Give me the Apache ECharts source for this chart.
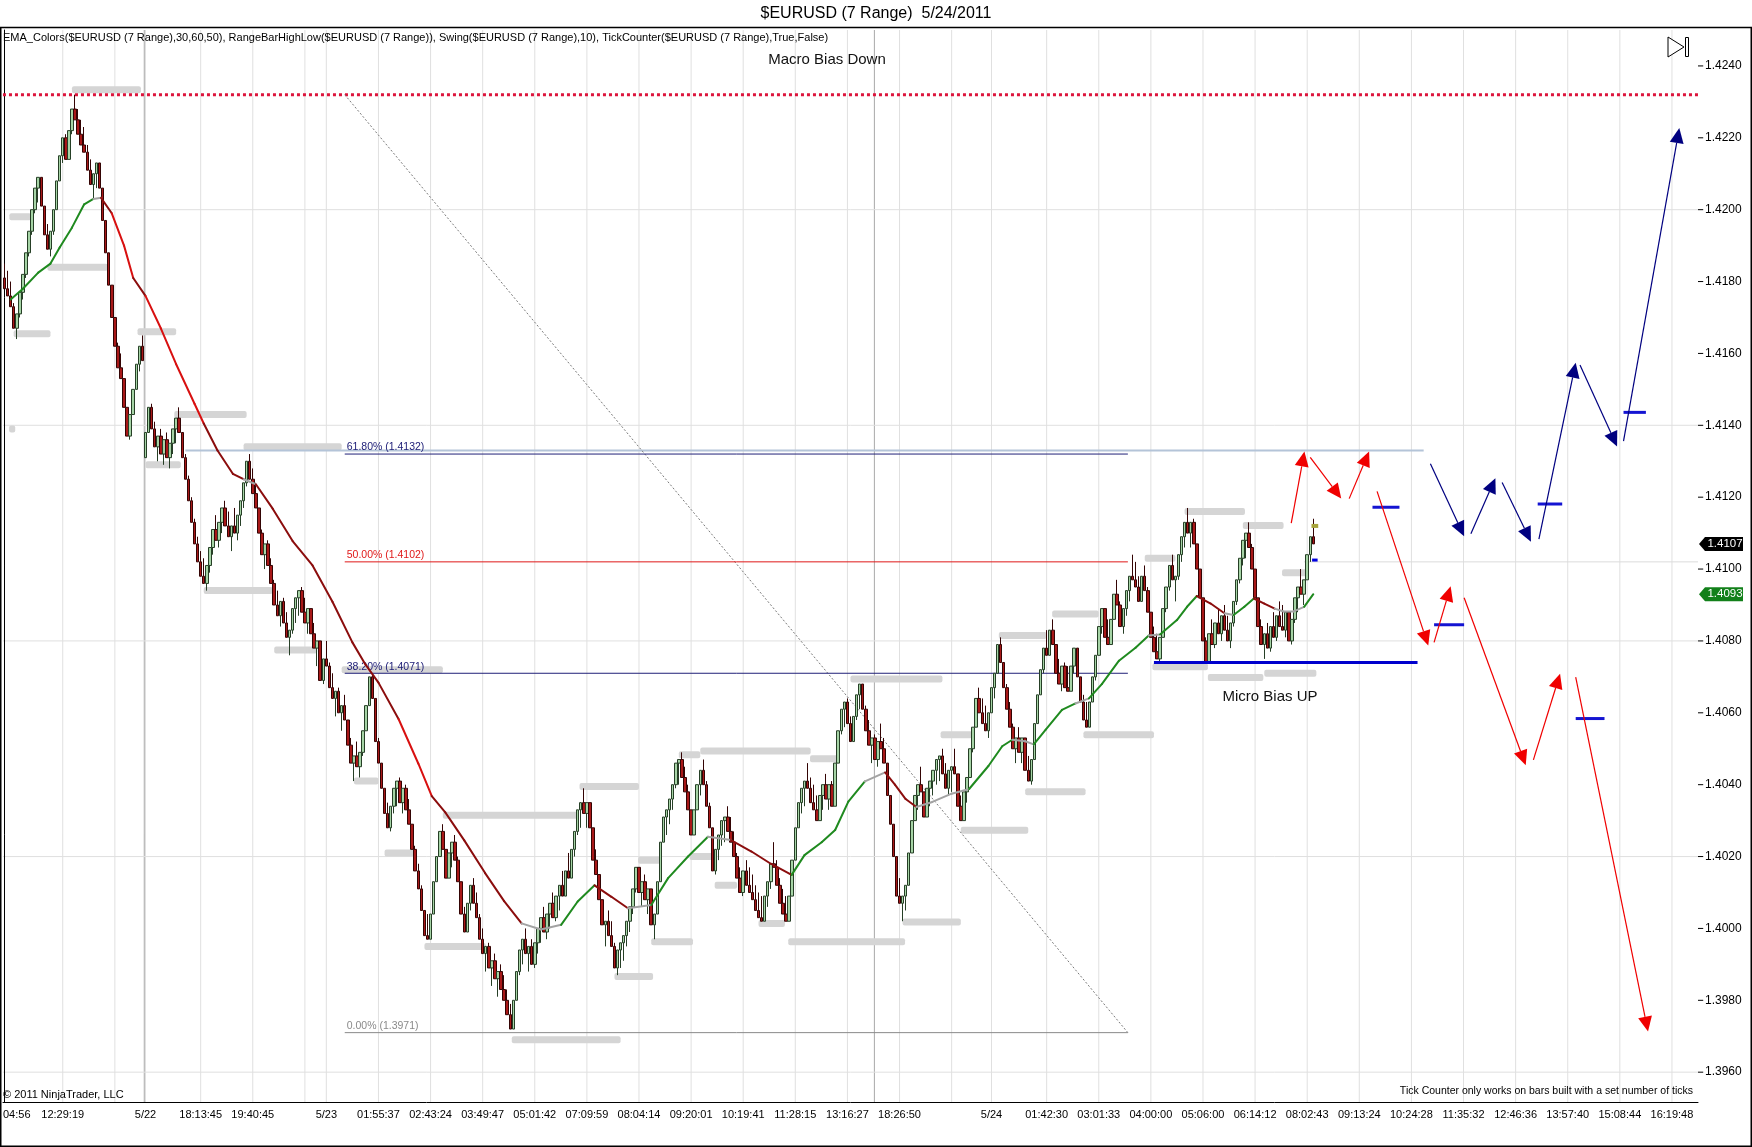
<!DOCTYPE html>
<html>
<head>
<meta charset="utf-8">
<title>$EURUSD (7 Range) 5/24/2011</title>
<script src="https://cdn.jsdelivr.net/npm/echarts@6/dist/echarts.min.js"></script>
<style>
  html, body { margin: 0; padding: 0; background: #fff; }
  #main { width: 1752px; height: 1147px; }
</style>
</head>
<body>
<div id="main"></div>
<script>
// $EURUSD 7 pip range bars. Prices are kept in pips: 4107 -> 1.4107
var SLOTS = 553; // bars + empty projection area on the time axis

// close of every range bar, left to right
var closes = [
  4178,4176,4173,4167,4171,4177,4182,4188,4194,4200,
  4206,4209,4201,4193,4189,4194,4200,4208,4215,4220,
  4214,4222,4228,4225,4221,4218,4216,4211,4207,4210,
  4213,4206,4197,4188,4179,4170,4162,4156,4153,4145,
  4137,4143,4150,4157,4162,4158,4138,4145,4139,4134,
  4137,4132,4136,4131,4135,4139,4142,4138,4131,4125,
  4119,4113,4107,4102,4098,4096,4101,4106,4111,4108,
  4113,4117,4112,4109,4112,4110,4115,4119,4124,4130,
  4125,4121,4117,4110,4104,4107,4101,4096,4090,4087,
  4091,4085,4081,4083,4089,4092,4094,4088,4085,4089,
  4082,4078,4080,4069,4075,4073,4067,4064,4066,4060,
  4062,4058,4051,4046,4048,4045,4049,4055,4062,4070,
  4064,4052,4046,4039,4032,4028,4034,4039,4041,4035,
  4039,4033,4029,4022,4016,4011,4005,3998,3997,4004,
  4013,4020,4027,4022,4014,4021,4024,4019,4013,4004,
  3999,4007,4012,4007,4003,3997,3993,3995,3989,3991,
  3986,3988,3983,3980,3976,3972,3980,3988,3994,3997,
  3993,3995,3990,3996,4000,4003,3999,4004,4007,4003,
  4009,4012,4009,4016,4014,4022,4027,4033,4035,4032,
  4035,4028,4019,4015,4008,4001,4002,3998,3995,3989,
  3994,3996,3998,4002,4006,4011,4017,4010,4013,4008,
  4011,4001,4004,4013,4024,4031,4033,4036,4040,4046,
  4047,4042,4038,4033,4026,4033,4040,4044,4040,4034,
  4028,4016,4022,4026,4030,4031,4027,4024,4020,4014,
  4010,4016,4012,4010,4008,4005,4003,4002,4009,4013,
  4018,4017,4012,4007,4004,4002,4009,4019,4028,4035,
  4039,4041,4039,4035,4033,4030,4037,4040,4036,4040,
  4034,4046,4055,4061,4063,4057,4052,4059,4065,4068,
  4061,4055,4051,4053,4047,4052,4050,4046,4037,4029,
  4020,4009,4007,4009,4012,4021,4030,4037,4040,4038,
  4031,4039,4041,4044,4047,4048,4043,4039,4044,4045,
  4043,4034,4030,4038,4042,4050,4056,4064,4060,4057,
  4055,4060,4067,4071,4079,4074,4067,4061,4056,4050,
  4053,4049,4053,4044,4041,4047,4057,4065,4072,4078,
  4076,4083,4079,4071,4068,4073,4067,4066,4073,4078,
  4070,4063,4058,4056,4063,4070,4076,4084,4089,4081,
  4079,4086,4093,4090,4084,4089,4094,4098,4097,4095,
  4091,4098,4094,4088,4081,4077,4075,4081,4089,4095,
  4101,4097,4098,4104,4109,4113,4110,4113,4107,4100,
  4092,4080,4074,4082,4079,4085,4082,4087,4083,4080,
  4085,4091,4097,4103,4108,4110,4106,4100,4092,4084,
  4079,4082,4078,4084,4081,4087,4084,4083,4088,4080,
  4086,4092,4095,4093,4097,4104,4109,4107
];
// bars whose open is not the previous close (first bar, weekend gap)
var gapOpens = [[0, 4181], [46, 4131]];

// EMA_Colors line, [bar, pips]
var emaPts = [
  [2,4175],[6,4178],[11,4182.5],[15,4185],[18,4189.5],[22,4195],[26,4201.5],[29,4203],[31.5,4203.3],
  [35,4199],[39,4190],[42,4181],[46,4176],[51,4167],[56,4157],[62,4146],[65,4140.5],[69.5,4133],
  [74.5,4126.5],[78,4125],[82,4123.6],[87.5,4116.8],[94,4107.8],[100.5,4101],[107,4090.9],[113.5,4079.6],
  [117.8,4073.4],[122,4068.4],[128.6,4058.2],[135,4045.9],[139.4,4036.8],[143.8,4032.3],[150,4024.5],
  [156.8,4015.4],[163,4007.6],[168.7,4001.4],[175,3999.7],[181.6,4001],[187,4007.5],[192.5,4012],
  [198,4008.8],[203.4,4005.6],[211,4006.5],[216.5,4014],[223,4020],[229.5,4025.5],[237,4024.6],
  [243.7,4021.4],[250,4018],[256.8,4014.9],[261,4020.4],[266.6,4024],[271,4027.4],[275.3,4035.3],
  [280.7,4040.9],[287.3,4043.4],[290.5,4040],[294,4036],[297.5,4033.8],[302.7,4035.2],[309,4037.5],
  [314.7,4038.8],[321,4045.2],[325.5,4050.7],[328.8,4052.5],[333,4052.1],[335.8,4051.2],[339.7,4055.3],
  [345,4060.8],[349.4,4062.6],[353.8,4064],[358,4068],[363.6,4074.5],[369,4078.1],[373.3,4081.5],
  [377,4081.8],[382.5,4085.8],[385.8,4089.5],[389,4092.5],[393.5,4090.4],[398,4087.7],[401,4087.2],
  [404.5,4089.5],[407.6,4091.8],[411,4090.4],[414.4,4089],[417.3,4088.2],[420.6,4088.2],[424,4089.5],
  [427,4093]
];

// RangeBarHighLow / swing levels, [from bar, to bar, pips]
var swings = [
  [1.6,8.7,4198],[1.5,3.5,4139],[3,15,4165.5],[14,33.7,4184],[22,44.5,4233.4],[43.4,56,4166],
  [46,57.5,4129],[55.4,79,4143],[65,87.5,4094],[78,110,4134],[88,102,4077.5],[110,143,4072],
  [114,122,4041],[124,133.5,4021],[137,157,3995],[143,187,4031.5],[165.5,201,3969],
  [187.6,207,4039.5],[199,211.6,3986.6],[206.7,214,4019],[211,224.6,3996.3],[220,227,4048.3],
  [227,263,4049.4],[223.5,231.7,4020],[231.7,239,4012],[246,254.6,4001.4],[255.7,293.8,3996.3],
  [262.8,272,4047.2],[276,306,4069.4],[293,312,4001.8],[305.4,315.7,4053.9],[312,334,4027.3],
  [324.4,340,4081.5],[333,352.7,4038],[341.8,357,4087.5],[352,375,4053.9],[372,382,4103],
  [374.5,392.6,4072.8],[385,404.7,4116],[392.6,410.7,4069.8],[404,417.3,4112.1],[411,428,4071],
  [416.8,425,4099]
];

// time axis
var tickMarks = [1,19,36,46,64,81,98,105,122,139,156,173,190,207,224,241,258,275,292,309,322,
  340,357,374,391,408,425,442,459,476,493,510,527,544];
var gridCols = tickMarks.slice(1); // no grid line on the clipped first tick
var tickLabels = [[4,'04:56'],[19,'12:29:19'],[46,'5/22'],[64,'18:13:45'],[81,'19:40:45'],
  [105,'5/23'],[122,'01:55:37'],[139,'02:43:24'],[156,'03:49:47'],[173,'05:01:42'],[190,'07:09:59'],
  [207,'08:04:14'],[224,'09:20:01'],[241,'10:19:41'],[258,'11:28:15'],[275,'13:16:27'],
  [292,'18:26:50'],[322,'5/24'],[340,'01:42:30'],[357,'03:01:33'],[374,'04:00:00'],[391,'05:06:00'],
  [408,'06:14:12'],[425,'08:02:43'],[442,'09:13:24'],[459,'10:24:28'],[476,'11:35:32'],
  [493,'12:46:36'],[510,'13:57:40'],[527,'15:08:44'],[544,'16:19:48']];
var sessionBreaks = [45.6, 283.8];

// price axis
var priceTicks = [3960,3980,4000,4020,4040,4060,4080,4100,4120,4140,4160,4180,4200,4220,4240];
var priceGrid = [3960,4020,4080,4140,4200];

// drawings
var macroHigh = 4232;
var fibAnchor = [[111, 4232], [366.5, 3971]];
var fibLevels = [[61.8, 4132], [50, 4102], [38.2, 4071], [0, 3971]];
var resistLine = [59, 463, 4133];
var microLine = [375, 461, 4074];
var midLine = [424, 552.5, 4102];
var redArrows = [
  [419.8,4112.8,424.1,4132.7],[426,4131.1,436.1,4119.6],[438.7,4119.6,445.2,4132.7],
  [447.8,4121.6,464.5,4078.7],[466.4,4079.6,471.8,4095.2],[476.2,4092,496.3,4045.4],
  [498.8,4046.9,507.5,4070.9],[512.6,4069.9,536.2,3971.3]
];
var navyArrows = [
  [465.2,4129.3,476.2,4109.1],[478.4,4109.8,486.4,4125.3],[488.6,4124.1,498,4107.6],
  [500.6,4108.3,512.6,4157.4],[514,4156.8,526.1,4134.1],[528.2,4135.6,546.4,4222.7]
];
var targets = [[446.3,455.1,4117.2],[466.4,476.2,4084.5],[500.2,508.2,4118.1],[512.6,522,4058.4],[528.2,535.5,4143.6]];
var lastHigh = [426.4, 428.6, 4112];
var lastLow = [426.6, 428.4, 4102.5];

function P(v) { return 1 + v / 10000; }

var FONT = '"Liberation Sans", Arial, sans-serif';
var Y_MIN = 1.39517, Y_MAX = 1.425;
var X0 = -0.5, X1 = SLOTS - 0.5;

var labelAt = {}, tickAt = {}, cats = [];
tickLabels.forEach(function (t) { labelAt[t[0]] = t[1]; });
tickMarks.forEach(function (i) { tickAt[i] = true; });
for (var i = 0; i < SLOTS; i++) cats.push(labelAt[i] || '');

var openAt = {};
gapOpens.forEach(function (g) { openAt[g[0]] = g[1]; });
var candles = closes.map(function (c, i) {
  var o = (i in openAt) ? openAt[i] : closes[i - 1];
  var hi, lo;
  if (c >= o) { hi = c; lo = Math.min(o, c - 7); } else { lo = c; hi = Math.max(o, c + 7); }
  return [P(o), P(c), P(lo), P(hi)];
});

function segSeries(items, style, z) {
  return {
    type: 'custom', xAxisIndex: 1, yAxisIndex: 0, silent: true, animation: false, z: z,
    data: items, encode: { x: [0, 2], y: [1, 3] },
    renderItem: function (params, api) {
      var a = api.coord([api.value(0), api.value(1)]);
      var b = api.coord([api.value(2), api.value(3)]);
      return { type: 'line', shape: { x1: a[0], y1: a[1], x2: b[0], y2: b[1] }, style: Object.assign({ fill: null }, style) };
    }
  };
}
function hSeg(list) { return list.map(function (s) { return [s[0], P(s[2]), s[1], P(s[2])]; }); }

function arrowSeries(items, color) {
  return {
    type: 'custom', xAxisIndex: 1, yAxisIndex: 0, silent: true, animation: false, z: 6,
    data: items.map(function (a) { return [a[0], P(a[1]), a[2], P(a[3])]; }),
    encode: { x: [0, 2], y: [1, 3] },
    renderItem: function (params, api) {
      var a = api.coord([api.value(0), api.value(1)]);
      var b = api.coord([api.value(2), api.value(3)]);
      var dx = b[0] - a[0], dy = b[1] - a[1], len = Math.sqrt(dx * dx + dy * dy);
      var ux = dx / len, uy = dy / len, hl = 15, hw = 7;
      var bx = b[0] - ux * hl, by = b[1] - uy * hl;
      return { type: 'group', children: [
        { type: 'line', shape: { x1: a[0], y1: a[1], x2: bx, y2: by }, style: { stroke: color, lineWidth: 1.2 } },
        { type: 'polygon', shape: { points: [[b[0], b[1]], [bx - uy * hw, by + ux * hw], [bx + uy * hw, by - ux * hw]] }, style: { fill: color } }
      ] };
    }
  };
}

// EMA pieces coloured by slope
var emaSegs = [];
for (var k = 1; k < emaPts.length; k++) {
  var a = emaPts[k - 1], b = emaPts[k];
  emaSegs.push([a[0], P(a[1]), b[0], P(b[1]), (b[1] - a[1]) / (b[0] - a[0])]);
}
function emaColor(s) {
  if (s > 0.4) return '#1f8a1f';
  if (s > -0.4) return '#a3a3a3';
  if (s > -1.8) return '#8b0d0d';
  return '#d81010';
}

var fibColors = ['#202078', '#e01818', '#202078', '#8a8a8a'];

var vGrid = gridCols.map(function (t) { return [t, Y_MIN, t, Y_MAX]; });
var vBreak = sessionBreaks.map(function (t) { return [t, Y_MIN, t, Y_MAX]; });
var hGrid = priceGrid.map(function (p) { return [X0, P(p), X1, P(p)]; });
// price-axis tick marks, drawn just right of the axis line
var yTicks = priceTicks.map(function (p) { return [X1, P(p), X1 + 1.7, P(p)]; });

var chart = echarts.init(document.getElementById('main'));
var option = {
  animation: false,
  backgroundColor: '#fff',
  grid: { left: 0, right: 54, top: 30, bottom: 45, show: false },
  xAxis: [{
    type: 'category', data: cats, boundaryGap: true,
    axisLine: { lineStyle: { color: '#000', width: 1 } },
    axisTick: { alignWithLabel: true, length: 5, lineStyle: { color: '#000' },
      interval: function (idx) { return !!tickAt[idx]; } },
    axisLabel: { color: '#000', fontFamily: FONT, fontSize: 11, margin: 7,
      interval: function (idx) { return !!labelAt[idx]; } },
    splitLine: { show: false }
  }, {
    type: 'value', min: X0, max: X1, show: false,
    axisLine: { show: false }, axisTick: { show: false }, axisLabel: { show: false }, splitLine: { show: false }
  }],
  yAxis: {
    type: 'value', position: 'right', min: Y_MIN, max: Y_MAX, scale: true,
    axisLine: { show: true, lineStyle: { color: '#000', width: 1 } },
    axisTick: { show: false },
    axisLabel: { color: '#000', fontFamily: FONT, fontSize: 12, margin: 7, customValues: priceTicks.map(P),
      formatter: function (v) { return v.toFixed(4); } },
    splitLine: { show: false }
  },
  series: [
    segSeries(vGrid, { stroke: '#e0e0e0', lineWidth: 1 }, 0),
    segSeries(vBreak, { stroke: '#a9a9a9', lineWidth: 1 }, 0),
    segSeries(hGrid, { stroke: '#e0e0e0', lineWidth: 1 }, 0),
    segSeries(hSeg([midLine]), { stroke: '#dcdcdc', lineWidth: 1 }, 0),
    segSeries(yTicks, { stroke: '#000', lineWidth: 1 }, 0),
    {
      type: 'custom', xAxisIndex: 1, yAxisIndex: 0, silent: true, animation: false, z: 1,
      data: swings.map(function (s) { return [s[0], s[1], P(s[2])]; }),
      encode: { x: [0, 1], y: 2 },
      renderItem: function (params, api) {
        var a = api.coord([api.value(0), api.value(2)]);
        var b = api.coord([api.value(1), api.value(2)]);
        return { type: 'rect', shape: { x: a[0], y: a[1] - 3.5, width: b[0] - a[0], height: 7, r: 2 }, style: { fill: '#d5d5d5' } };
      }
    },
    segSeries([[X0, P(macroHigh), X1, P(macroHigh)]], { stroke: '#dc143c', lineWidth: 3, lineDash: [3, 3] }, 2),
    segSeries(hSeg([resistLine]), { stroke: '#b4c4d8', lineWidth: 2 }, 2),
    segSeries([[fibAnchor[0][0], P(fibAnchor[0][1]), fibAnchor[1][0], P(fibAnchor[1][1])]], { stroke: '#7a7a7a', lineWidth: 1, lineDash: [2, 2] }, 2),
    {
      type: 'custom', xAxisIndex: 1, yAxisIndex: 0, silent: true, animation: false, z: 2,
      data: fibLevels.map(function (f) { return [fibAnchor[0][0], P(f[1]), fibAnchor[1][0], f[0], f[1]]; }),
      encode: { x: [0, 2], y: 1 },
      renderItem: function (params, api) {
        var a = api.coord([api.value(0), api.value(1)]);
        var b = api.coord([api.value(2), api.value(1)]);
        var col = fibColors[params.dataIndex];
        var txt = api.value(3).toFixed(2) + '% (' + P(api.value(4)).toFixed(4) + ')';
        return { type: 'group', children: [
          { type: 'line', shape: { x1: a[0], y1: a[1], x2: b[0], y2: b[1] }, style: { stroke: col, lineWidth: 1 } },
          { type: 'text', x: a[0] + 2, y: a[1] - 1, style: { text: txt, fill: col, font: '10.5px ' + FONT, align: 'left', verticalAlign: 'bottom' } }
        ] };
      }
    },
    {
      type: 'candlestick', xAxisIndex: 0, yAxisIndex: 0, z: 3, silent: true, barWidth: 3,
      data: candles,
      itemStyle: { color: '#a6d4a6', color0: '#a81818', borderColor: '#263f26', borderColor0: '#340404', borderWidth: 1 }
    },
    {
      type: 'custom', xAxisIndex: 1, yAxisIndex: 0, silent: true, animation: false, z: 4,
      data: emaSegs, encode: { x: [0, 2], y: [1, 3] },
      renderItem: function (params, api) {
        var a = api.coord([api.value(0), api.value(1)]);
        var b = api.coord([api.value(2), api.value(3)]);
        return { type: 'line', shape: { x1: a[0], y1: a[1], x2: b[0], y2: b[1] },
          style: { stroke: emaColor(api.value(4)), lineWidth: 2, lineCap: 'round' } };
      }
    },
    segSeries(hSeg([microLine]), { stroke: '#0000cd', lineWidth: 3 }, 5),
    segSeries(hSeg(targets), { stroke: '#1414d2', lineWidth: 3 }, 5),
    segSeries(hSeg([lastHigh]), { stroke: '#a8a43c', lineWidth: 4 }, 5),
    segSeries(hSeg([lastLow]), { stroke: '#0000e0', lineWidth: 3 }, 5),
    arrowSeries(redArrows, '#f00000'),
    arrowSeries(navyArrows, '#000080')
  ]
};
chart.setOption(option);

// price flags on the axis and the page furniture
var lastPrice = closes[closes.length - 1];
var emaLast = emaPts[emaPts.length - 1][1];
function flag(v, fill) {
  var y = chart.convertToPixel({ yAxisIndex: 0 }, P(v));
  var x = 1699;
  return [
    { type: 'polygon', z: 20, shape: { points: [[x, y], [x + 6, y - 7], [x + 44, y - 7], [x + 44, y + 7], [x + 6, y + 7]] }, style: { fill: fill } },
    { type: 'text', z: 21, x: x + 26, y: y, style: { text: P(v).toFixed(4), fill: '#fff', font: '11.5px ' + FONT, align: 'center', verticalAlign: 'middle' } }
  ];
}
var graphics = [
  { type: 'text', x: 876, y: 14, style: { text: '$EURUSD (7 Range)  5/24/2011', fill: '#000', font: '16px ' + FONT, align: 'center', verticalAlign: 'middle' } },
  { type: 'rect', z: 30, shape: { x: 0.75, y: 27.5, width: 1750.5, height: 1118.75 }, style: { fill: null, stroke: '#000', lineWidth: 1.5 } },
  { type: 'text', x: 3, y: 38, style: { text: 'EMA_Colors($EURUSD (7 Range),30,60,50), RangeBarHighLow($EURUSD (7 Range)), Swing($EURUSD (7 Range),10), TickCounter($EURUSD (7 Range),True,False)', fill: '#000', font: '11px ' + FONT, align: 'left', verticalAlign: 'middle' } },
  { type: 'text', x: 827, y: 60, style: { text: 'Macro Bias Down', fill: '#111', font: '15px ' + FONT, align: 'center', verticalAlign: 'middle' } },
  { type: 'text', x: 1270, y: 697, style: { text: 'Micro Bias UP', fill: '#111', font: '15px ' + FONT, align: 'center', verticalAlign: 'middle' } },
  { type: 'text', x: 3, y: 1095, style: { text: '\u00a9 2011 NinjaTrader, LLC', fill: '#000', font: '11px ' + FONT, align: 'left', verticalAlign: 'middle' } },
  { type: 'text', x: 1693, y: 1091, style: { text: 'Tick Counter only works on bars built with a set number of ticks', fill: '#000', font: '10.5px ' + FONT, align: 'right', verticalAlign: 'middle' } },
  { type: 'polygon', shape: { points: [[1668, 37], [1684, 47], [1668, 57]] }, style: { fill: '#fff', stroke: '#000', lineWidth: 1 } },
  { type: 'rect', shape: { x: 1685.5, y: 37.5, width: 3, height: 19 }, style: { fill: '#fff', stroke: '#000', lineWidth: 1 } }
].concat(flag(lastPrice, '#000'), flag(emaLast, '#12801a'));
chart.setOption({ graphic: graphics });
</script>
</body>
</html>
